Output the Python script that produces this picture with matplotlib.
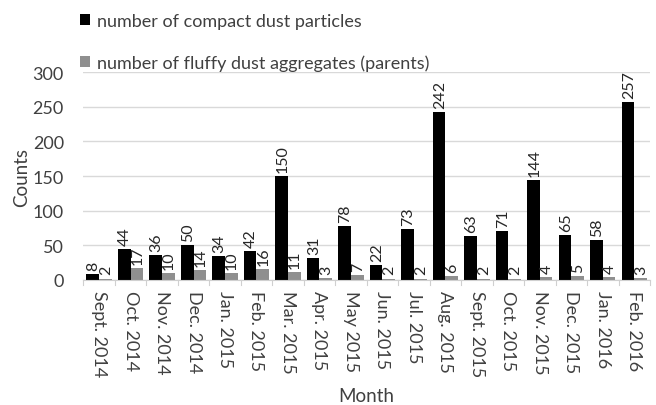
import numpy as np
import matplotlib
matplotlib.use("Agg")
import matplotlib.pyplot as plt

# дані з графіка
months = ["Sept. 2014", "Oct. 2014", "Nov. 2014", "Dec. 2014", "Jan. 2015", "Feb. 2015",
          "Mar. 2015", "Apr. 2015", "May 2015", "Jun. 2015", "Jul. 2015", "Aug. 2015",
          "Sept. 2015", "Oct. 2015", "Nov. 2015", "Dec. 2015", "Jan. 2016", "Feb. 2016"]
compact = [8, 44, 36, 50, 34, 42, 150, 31, 78, 22, 73, 242, 63, 71, 144, 65, 58, 257]
fluffy = [2, 17, 10, 14, 10, 16, 11, 3, 7, 2, 2, 6, 2, 2, 4, 5, 4, 3]

plt.rcParams['font.family'] = ['Lato', 'DejaVu Sans']
txt = "#404040"

fig = plt.figure(figsize=(6.56, 4.06), dpi=100)
ax = fig.add_axes([0.127, 0.308, 0.864, 0.512])

x = np.arange(len(months))
w = 0.4
b1 = ax.bar(x - w / 2, compact, w, color="black", label="number of compact dust particles")
b2 = ax.bar(x + w / 2, fluffy, w, color="#8f8f8f", label="number of fluffy dust aggregates (parents)")

# підписи значень над стовпцями
for bars, vals in [(b1, compact), (b2, fluffy)]:
    for rect, v in zip(bars, vals):
        ax.annotate(str(v), (rect.get_x() + rect.get_width() / 2, v), xytext=(0.5, 3),
                    textcoords="offset points", rotation=90, ha="center", va="bottom",
                    fontsize=11.5, color="#262626")

ax.set_xlim(-0.5, len(months) - 0.5)
ax.set_ylim(0, 300)
ax.set_yticks(range(0, 301, 50))
ax.set_xticks(x)
ax.set_xticklabels(months, rotation=-90, fontsize=13, color=txt)
ax.tick_params(axis="y", labelsize=13, colors=txt, length=0, pad=14)
ax.tick_params(axis="x", length=0, pad=7)
# розділові риски між місяцями
for xs in np.arange(-0.5, len(months), 1):
    ax.plot([xs, xs], [0, -7], color="#d0d0d0", lw=0.8, clip_on=False)

ax.grid(axis="y", color="#d9d9d9", lw=1)
ax.set_axisbelow(True)
for s in ["top", "right", "left"]:
    ax.spines[s].set_visible(False)
ax.spines["bottom"].set_color("#d0d0d0")

ax.set_xlabel("Month", fontsize=13.5, color=txt, labelpad=8)
ax.set_ylabel("Counts", fontsize=13.5, color=txt, labelpad=2)

ax.legend(loc="lower left", bbox_to_anchor=(-0.005, 1.005), frameon=False, fontsize=13,
          handlelength=0.55, handleheight=0.55, handletextpad=0.35, labelspacing=1.4,
          labelcolor=txt, borderaxespad=0, borderpad=0)

plt.savefig("out.png", dpi=100)
plt.close()
